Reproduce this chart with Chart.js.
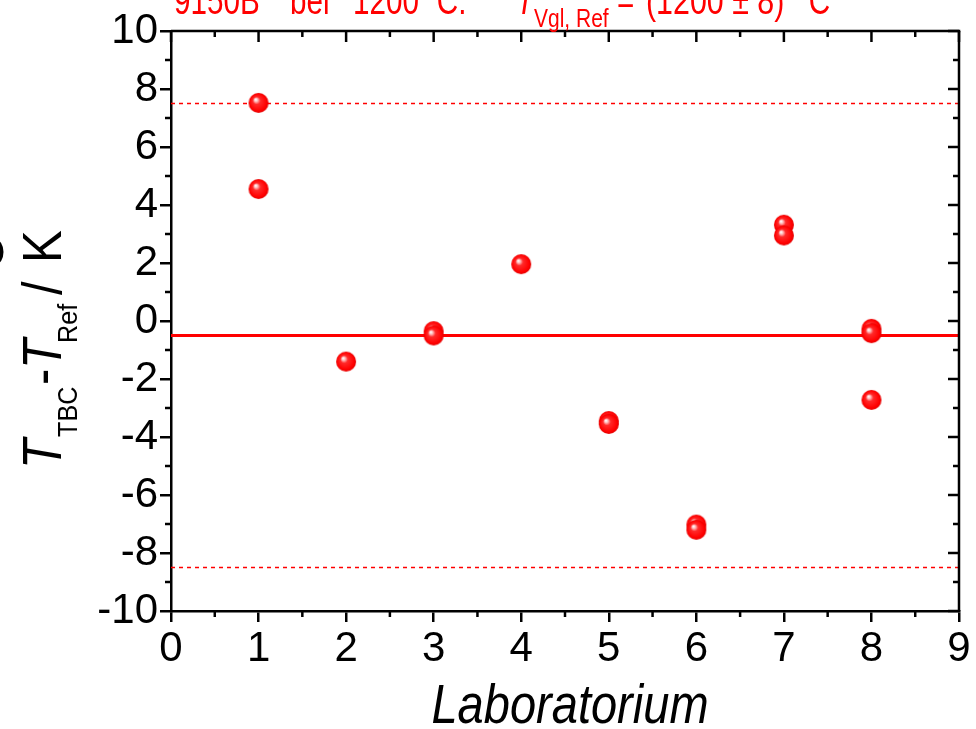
<!DOCTYPE html>
<html>
<head>
<meta charset="utf-8">
<script src="https://cdn.jsdelivr.net/npm/chart.js@4.4.1/dist/chart.umd.min.js"></script>
<style>
  html, body { margin: 0; padding: 0; background: #ffffff; }
  canvas { display: block; }
</style>
</head>
<body>
<canvas id="labChart" width="976" height="729"></canvas>
<script>
// Deviation of each laboratory's TBC reading from the reference temperature
const labNumbers = [1, 1, 2, 3, 3, 4, 5, 5, 6, 6, 7, 7, 8, 8, 8];
const deviations = [7.52, 4.55, -1.4, -0.35, -0.5, 1.96, -3.45, -3.55, -7.02, -7.2, 3.32, 2.95, -0.27, -0.42, -2.72];

// Mean deviation and the +/- 8 K acceptance band around it
const meanDeviation = -0.5;
const upperLimit = 7.5;
const lowerLimit = -8.5;

// Axis ranges and tick labels
const xTickValues = [0, 1, 2, 3, 4, 5, 6, 7, 8, 9];
const yTickValues = [-10, -8, -6, -4, -2, 0, 2, 4, 6, 8, 10];

const RED = '#ff0000';
const FONT = "'Liberation Sans', Arial, Helvetica, sans-serif";

// Shaded red ball used as point marker
const makeSphere = (r) => {
    const size = r * 2 + 2;
    const c = document.createElement('canvas');
    c.width = size;
    c.height = size;
    const g = c.getContext('2d');
    const cx = size / 2, cy = size / 2;
    const grad = g.createRadialGradient(cx - 3, cy - 3.5, 0.3, cx, cy, r);
    grad.addColorStop(0, '#ffffff');
    grad.addColorStop(0.15, '#ffbcbc');
    grad.addColorStop(0.36, '#ff2a2a');
    grad.addColorStop(0.85, '#ff0000');
    grad.addColorStop(1, '#e00000');
    g.fillStyle = grad;
    g.beginPath();
    g.arc(cx, cy, r, 0, Math.PI * 2);
    g.fill();
    return c;
};
const sphere = makeSphere(10);

const hLine = (value) => [
    { x: xTickValues[0], y: value },
    { x: xTickValues[xTickValues.length - 1], y: value }
];

// Draws text squeezed along its writing direction
const putText = (ctx, str, x, y, font, sx) => {
    ctx.save();
    ctx.font = font;
    ctx.translate(x, y);
    ctx.scale(sx, 1);
    ctx.fillText(str, 0, 0);
    ctx.restore();
};

// Frame on top/right, minor ticks and the mirrored inward ticks
const framePlugin = {
    id: 'frame',
    afterDraw(chart) {
        const { ctx, chartArea: { left, right, top, bottom }, scales: { x, y } } = chart;
        ctx.save();
        ctx.strokeStyle = '#000000';
        ctx.lineWidth = 2.5;
        ctx.lineCap = 'butt';
        const seg = (x1, y1, x2, y2) => {
            ctx.beginPath();
            ctx.moveTo(x1, y1);
            ctx.lineTo(x2, y2);
            ctx.stroke();
        };
        seg(left, top, right + 1.25, top);
        seg(right, top, right, bottom);

        xTickValues.forEach((v, i) => {
            const px = x.getPixelForValue(v);
            seg(px, top, px, top + 11);
            if (i < xTickValues.length - 1) {
                const mx = x.getPixelForValue(v + 0.5);
                seg(mx, bottom, mx, bottom + 6);
                seg(mx, top, mx, top + 6);
            }
        });
        yTickValues.forEach((v, i) => {
            const py = y.getPixelForValue(v);
            seg(right - 11, py, right, py);
            if (i < yTickValues.length - 1) {
                const my = y.getPixelForValue(v + 1);
                seg(left - 6, my, left, my);
                seg(right - 6, my, right, my);
            }
        });
        ctx.restore();
    }
};

// Axis titles and the heading with italics and subscripts
const titlePlugin = {
    id: 'titles',
    afterDraw(chart) {
        const { ctx } = chart;
        ctx.save();
        ctx.textBaseline = 'alphabetic';
        ctx.textAlign = 'left';

        // heading
        ctx.fillStyle = RED;
        const head = 'normal 38px ' + FONT;
        putText(ctx, '9150B', 174, 14, head, 0.78);
        putText(ctx, 'bei', 290, 14, head, 0.78);
        putText(ctx, '1200', 353, 14, head, 0.78);
        putText(ctx, '°C:', 425, 14, head, 0.78);
        putText(ctx, 'T', 516, 14, 'italic 38px ' + FONT, 0.78);
        putText(ctx, 'Vgl, Ref', 534, 27, 'normal 25px ' + FONT, 0.84);
        putText(ctx, '=', 617, 14, head, 0.78);
        putText(ctx, '(1200 ± 8)', 646, 14, head, 0.8);
        putText(ctx, '°C', 797, 14, head, 0.78);

        // x axis title
        ctx.fillStyle = '#000000';
        ctx.save();
        ctx.font = 'italic 56px ' + FONT;
        const w = ctx.measureText('Laboratorium').width * 0.84;
        ctx.restore();
        putText(ctx, 'Laboratorium', 570 - w / 2, 723, 'italic 56px ' + FONT, 0.84);

        // y axis title, written bottom to top
        ctx.save();
        ctx.translate(61, 467);
        ctx.rotate(-Math.PI / 2);
        const big = 'italic 56px ' + FONT;
        const bigUp = 'normal 56px ' + FONT;
        const sub = 'normal 28px ' + FONT;
        putText(ctx, 'T', -2, 0, big, 0.875);
        putText(ctx, 'TBC', 30, 16, sub, 0.9);
        putText(ctx, '-', 82, 0, bigUp, 0.875);
        putText(ctx, 'T', 98, 0, big, 0.875);
        putText(ctx, 'Ref', 124, 16, sub, 0.9);
        putText(ctx, '/', 172, 0, bigUp, 0.875);
        putText(ctx, 'K', 204, 0, bigUp, 0.875);
        ctx.restore();

        // partly visible second title line at the far left
        ctx.save();
        ctx.translate(3, 252);
        ctx.rotate(-Math.PI / 2);
        ctx.textAlign = 'center';
        putText(ctx, 'O', 0, 0, 'normal 56px ' + FONT, 0.875);
        ctx.restore();

        ctx.restore();
    }
};

const axisTicks = {
    font: { family: FONT, size: 42 },
    color: '#000000',
    autoSkip: false,
    maxRotation: 0
};

new Chart(document.getElementById('labChart'), {
    type: 'scatter',
    data: {
        datasets: [
            {
                label: 'Labore',
                data: labNumbers.map((lab, i) => ({ x: lab, y: deviations[i] })),
                pointStyle: sphere,
                pointRadius: 10,
                pointHoverRadius: 10,
                showLine: false,
                order: 0
            },
            {
                label: 'Mittelwert',
                type: 'line',
                data: hLine(meanDeviation),
                borderColor: RED,
                borderWidth: 3,
                pointRadius: 0,
                fill: false,
                order: 1
            },
            {
                label: 'obere Grenze',
                type: 'line',
                data: hLine(upperLimit),
                borderColor: RED,
                borderWidth: 1.5,
                borderDash: [4, 4],
                pointRadius: 0,
                fill: false,
                order: 1
            },
            {
                label: 'untere Grenze',
                type: 'line',
                data: hLine(lowerLimit),
                borderColor: RED,
                borderWidth: 1.5,
                borderDash: [4, 4],
                pointRadius: 0,
                fill: false,
                order: 1
            }
        ]
    },
    options: {
        responsive: false,
        animation: false,
        events: [],
        layout: { padding: { left: 0, top: 31, right: 17, bottom: 0 } },
        plugins: {
            legend: { display: false },
            tooltip: { enabled: false },
            title: { display: false }
        },
        scales: {
            x: {
                type: 'linear',
                min: xTickValues[0],
                max: xTickValues[xTickValues.length - 1],
                afterBuildTicks: (scale) => { scale.ticks = xTickValues.map(v => ({ value: v })); },
                afterFit: (scale) => { scale.height = 118; },
                ticks: { ...axisTicks, padding: 2 },
                grid: {
                    drawOnChartArea: false,
                    drawTicks: true,
                    tickLength: 11,
                    color: '#000000',
                    lineWidth: 2.5
                },
                border: { display: true, color: '#000000', width: 2.5 }
            },
            y: {
                type: 'linear',
                min: yTickValues[0],
                max: yTickValues[yTickValues.length - 1],
                afterBuildTicks: (scale) => { scale.ticks = yTickValues.map(v => ({ value: v })); },
                afterFit: (scale) => { scale.width = 171; },
                ticks: { ...axisTicks, padding: 2 },
                grid: {
                    drawOnChartArea: false,
                    drawTicks: true,
                    tickLength: 11,
                    color: '#000000',
                    lineWidth: 2.5
                },
                border: { display: true, color: '#000000', width: 2.5 }
            }
        }
    },
    plugins: [framePlugin, titlePlugin]
});
</script>
</body>
</html>
